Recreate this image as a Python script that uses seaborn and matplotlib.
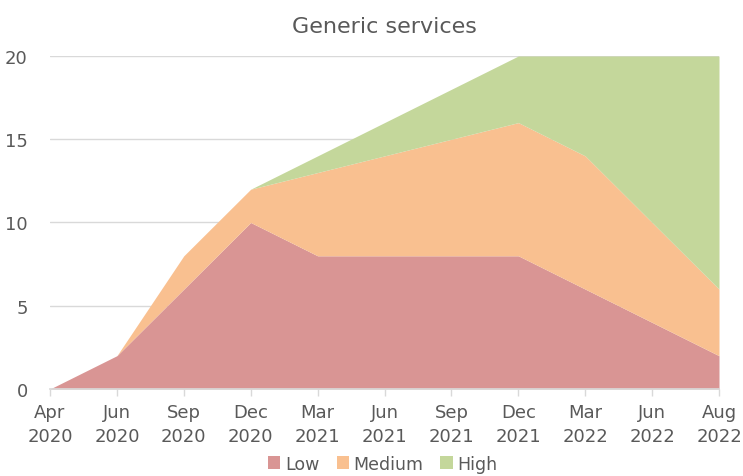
import pandas as pd
import numpy as np
import matplotlib.pyplot as plt
import seaborn as sns

periods = ['Apr\n2020', 'Jun\n2020', 'Sep\n2020', 'Dec\n2020', 'Mar\n2021', 'Jun\n2021',
           'Sep\n2021', 'Dec\n2021', 'Mar\n2022', 'Jun\n2022', 'Aug\n2022']
low = [0, 2, 6, 10, 8, 8, 8, 8, 6, 4, 2]
medium = [0, 0, 2, 2, 5, 6, 7, 8, 8, 6, 4]
high = [0, 0, 0, 0, 1, 2, 3, 4, 6, 10, 14]

data = pd.DataFrame({'Low': low, 'Medium': medium, 'High': high}, index=periods)

sns.set_theme(style='whitegrid')
plt.rcParams['font.family'] = ['DejaVu Sans']
text_color = '#595959'

fig = plt.figure(figsize=(7.43, 4.77), dpi=100)
ax = fig.add_axes([0.0673, 0.1824, 0.9004, 0.6981])

x = np.arange(len(periods))
ax.stackplot(x, data['Low'], data['Medium'], data['High'],
             colors=['#D99594', '#F9C090', '#C4D79B'],
             labels=['Low', 'Medium', 'High'], linewidth=0)

ax.set_xlim(0, len(periods) - 1)
ax.set_ylim(0, 20)
ax.set_yticks([0, 5, 10, 15, 20])
ax.set_xticks(x)
ax.set_xticklabels(periods)
ax.grid(axis='x', visible=False)
ax.grid(axis='y', color='#D9D9D9', linewidth=1)
ax.set_axisbelow(True)
for side in ['top', 'right', 'left']:
    ax.spines[side].set_visible(False)
ax.spines['bottom'].set_color('#D9D9D9')
ax.tick_params(axis='x', labelsize=13, length=5, width=1, color='#D9D9D9',
               direction='out', bottom=True, pad=5, labelcolor=text_color)
ax.tick_params(axis='y', labelcolor=text_color, labelsize=13, length=0, pad=16)
for lbl in ax.get_xticklabels():
    lbl.set_linespacing(1.45)
ax.set_title('Generic services', color=text_color, fontsize=16, pad=17)

handles, labels = ax.get_legend_handles_labels()
fig.legend(handles, labels, loc='center', bbox_to_anchor=(0.515, 0.026), ncol=3, frameon=False,
           fontsize=12.5, handlelength=0.7, handleheight=0.7, handletextpad=0.25,
           columnspacing=1.0, labelcolor=text_color, borderpad=0.1)

fig.savefig('out.png', dpi=100)
